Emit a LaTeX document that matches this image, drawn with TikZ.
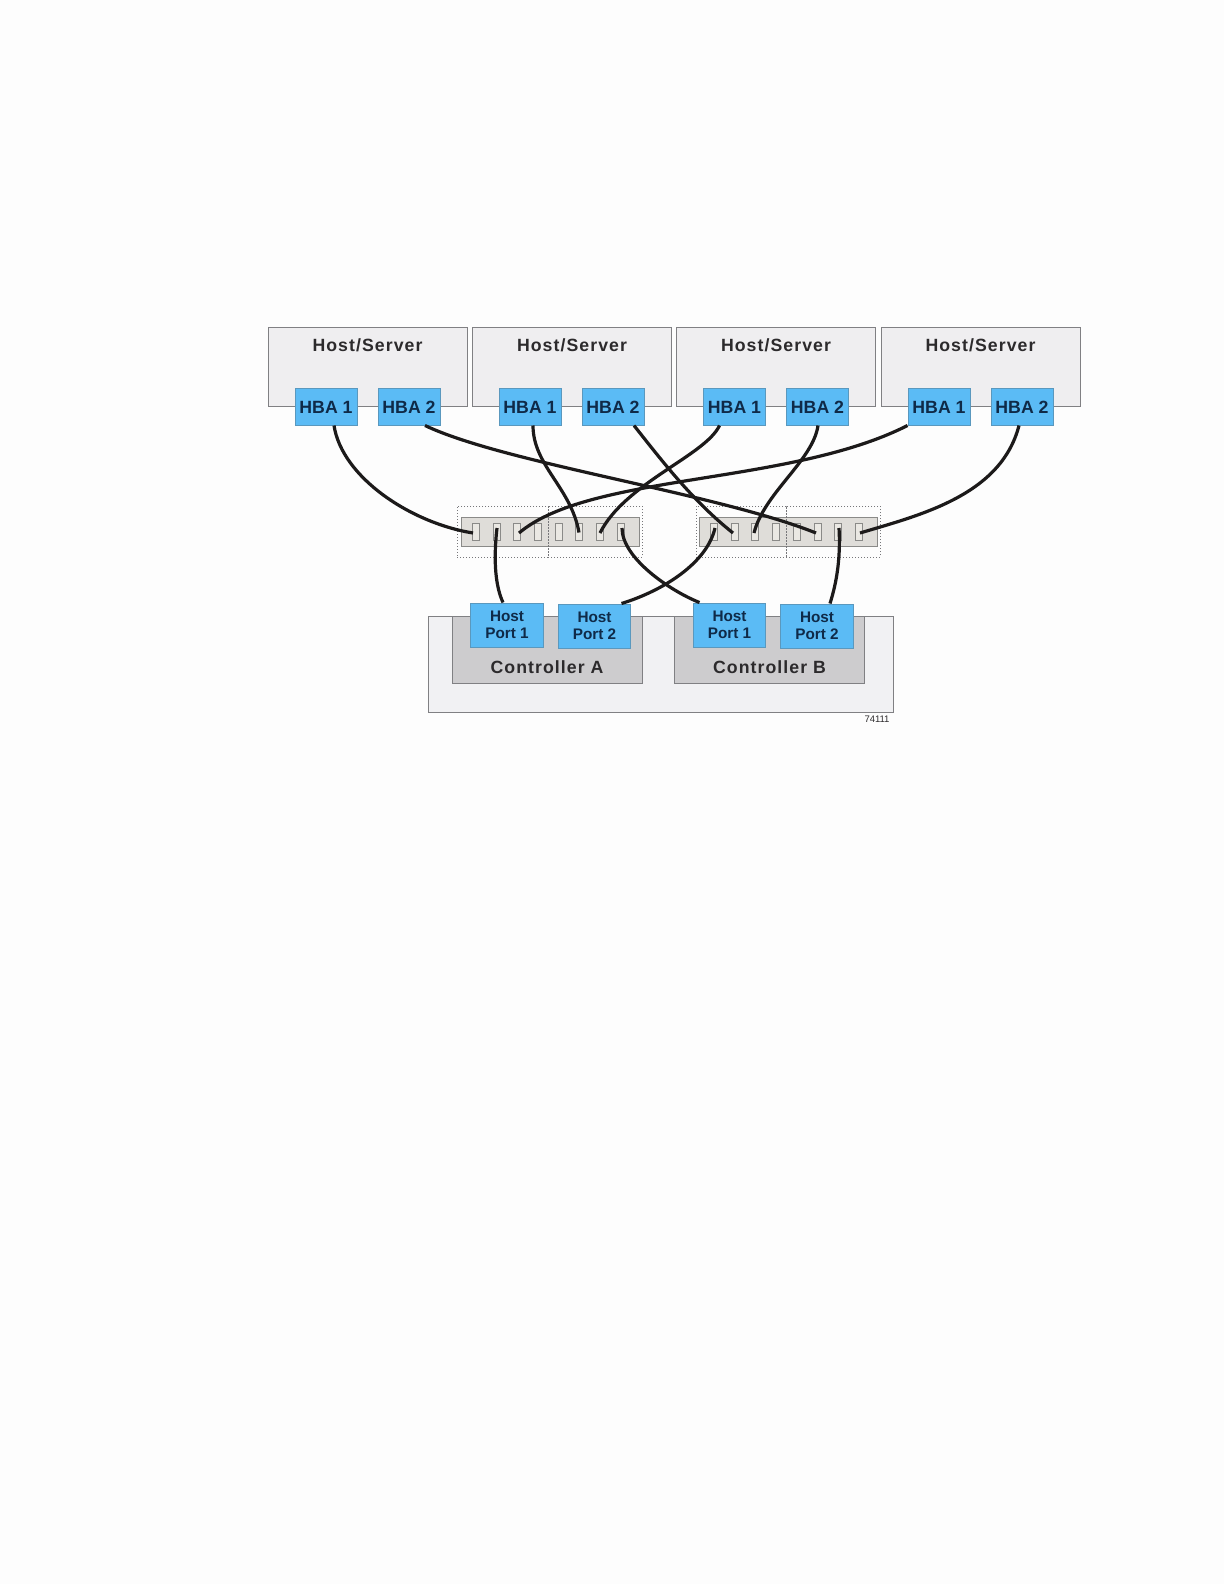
\documentclass[tikz,border=0pt]{standalone}
\usepackage{fontspec}
\setmainfont{Liberation Sans}
\newfontfamily\spacedfont[LetterSpace=6]{Liberation Sans}
\definecolor{pagebg}{HTML}{FDFDFD}
\definecolor{hostfill}{HTML}{EFEEF0}
\definecolor{boxline}{HTML}{808083}
\definecolor{hbafill}{HTML}{5BBBF5}
\definecolor{hbaline}{HTML}{5A98BE}
\definecolor{bluetext}{HTML}{0F2A48}
\definecolor{graytext}{HTML}{2C2A2C}
\definecolor{ctrlfill}{HTML}{CDCCCE}
\definecolor{chassisfill}{HTML}{F1F1F3}
\definecolor{switchfill}{HTML}{DFDDD9}
\definecolor{portfill}{HTML}{EAE8E3}
\definecolor{portline}{HTML}{8A8A88}
\definecolor{wirecol}{HTML}{1C1A1A}
\definecolor{zoneline}{HTML}{77777A}
\tikzset{
  hostbox/.style={draw=boxline,fill=hostfill,line width=.9pt,minimum width=199pt,minimum height=79pt,inner sep=0pt},
  hosttitle/.style={font=\fontsize{17.7}{20}\bfseries\spacedfont\selectfont,text=graytext,inner sep=0pt},
  hbabox/.style={draw=hbaline,fill=hbafill,line width=1pt,minimum width=62pt,minimum height=37pt,inner sep=0pt,
     text height=13pt,text depth=0pt,font=\fontsize{17.7}{20}\bfseries\selectfont,text=bluetext},
  portbox/.style={draw=hbaline,fill=hbafill,line width=1pt,minimum width=72.5pt,minimum height=44pt,inner sep=0pt,
     align=center,font=\fontsize{15.3}{17.5}\bfseries\selectfont,text=bluetext},
  chassis/.style={draw=boxline,fill=chassisfill,line width=.9pt,minimum width=465pt,minimum height=96pt,inner sep=0pt},
  ctrlbox/.style={draw=boxline,fill=ctrlfill,line width=.9pt,minimum width=190pt,minimum height=67pt,inner sep=0pt},
  ctrltitle/.style={font=\fontsize{17.7}{20}\bfseries\spacedfont\selectfont,text=graytext,inner sep=0pt},
  switchbox/.style={draw=portline,fill=switchfill,line width=1pt,minimum width=178pt,minimum height=29pt,inner sep=0pt},
  zonebox/.style={draw=zoneline,dotted,line width=1pt,minimum height=51pt,inner sep=0pt},
  switchport/.style={draw=portline,fill=portfill,line width=.9pt,minimum width=7pt,minimum height=17pt,inner sep=0pt},
  wire/.style={draw=wirecol,line width=3.2pt,line cap=butt},
  tag/.style={font=\fontsize{9.5}{11}\selectfont,text=graytext,inner sep=0pt}
}
\begin{document}
\begin{tikzpicture}[x=1pt,y=-1pt]
\useasboundingbox[fill=pagebg] (0,0) rectangle (1224,1584);
% hosts
\node[hostbox] (host1) at (367.5,366.5) {};
\node[hostbox] (host2) at (572,366.5) {};
\node[hostbox] (host3) at (776,366.5) {};
\node[hostbox] (host4) at (980.5,366.5) {};
\node[hosttitle] (t1) at (367.5,345) {Host/Server};
\node[hosttitle] (t2) at (572,345) {Host/Server};
\node[hosttitle] (t3) at (776,345) {Host/Server};
\node[hosttitle] (t4) at (980.5,345) {Host/Server};
% HBAs
\node[hbabox] (h1a) at (326,406.5) {HBA 1};
\node[hbabox] (h1b) at (409,406.5) {HBA 2};
\node[hbabox] (h2a) at (530,406.5) {HBA 1};
\node[hbabox] (h2b) at (613,406.5) {HBA 2};
\node[hbabox] (h3a) at (734.5,406.5) {HBA 1};
\node[hbabox] (h3b) at (817.5,406.5) {HBA 2};
\node[hbabox] (h4a) at (939,406.5) {HBA 1};
\node[hbabox] (h4b) at (1022,406.5) {HBA 2};
% switches
\node[switchbox] (swa) at (550,531.5) {};
\node[switchbox] (swb) at (788,531.5) {};
\node[zonebox,minimum width=91pt] (za1) at (502.5,531.5) {};
\node[zonebox,minimum width=94pt] (za2) at (595,531.5) {};
\node[zonebox,minimum width=90pt] (zb1) at (741,531.5) {};
\node[zonebox,minimum width=94pt] (zb2) at (833,531.5) {};
\foreach \n/\x in {a1/476,a2/497,a3/517,a4/538,a5/559,a6/579,a7/600,a8/621,
                   b1/714,b2/735,b3/755,b4/776,b5/797,b6/818,b7/838,b8/859}
  \node[switchport] (p\n) at (\x,531.5) {};
% chassis and controllers
\node[chassis] (chas) at (660.5,664) {};
\node[ctrlbox] (ca) at (547,649.5) {};
\node[ctrlbox] (cb) at (769.5,649.5) {};
\node[ctrltitle] (cat) at (547,667) {Controller A};
\node[ctrltitle] (cbt) at (769.5,667) {Controller B};
\node[portbox] (a1) at (507,625) {Host\\Port 1};
\node[portbox] (a2) at (594.5,626) {Host\\Port 2};
\node[portbox] (b1) at (729.5,625) {Host\\Port 1};
\node[portbox] (b2) at (817,626) {Host\\Port 2};
\node[tag] (fig) at (877,719.5) {74111};
% cables
\draw[wire] ([xshift=8pt]h1a.south) .. controls +(8,52) and +(-62,-10) .. ([xshift=-3pt,yshift=-1.5pt]pa1.center);
\draw[wire] ([xshift=16pt]h1b.south) .. controls +(80,38) and +(-100,-40) .. ([xshift=-2pt,yshift=-1.5pt]pb6.center);
\draw[wire] ([xshift=3pt]h2a.south) .. controls +(0,40) and +(-8,-45) .. ([yshift=-1pt]pa6.center);
\draw[wire] ([xshift=21pt]h2b.south) .. controls +(30,38) and +(-40,-32) .. ([xshift=-2pt,yshift=-1.5pt]pb2.center);
\draw[wire] ([xshift=-15pt]h3a.south) .. controls +(-14,30) and +(25,-50) .. ([yshift=-1.5pt]pa7.center);
\draw[wire] ([xshift=0.5pt]h3b.south) .. controls +(-5,35) and +(10,-40) .. ([xshift=-1pt,yshift=-1.5pt]pb3.center);
\draw[wire] (h4a.south west) .. controls +(-118,60) and +(71,-60) .. ([xshift=2pt,yshift=-1.5pt]pa3.center);
\draw[wire] ([xshift=-3pt]h4b.south) .. controls +(-18,70) and +(60,-18) .. ([xshift=1pt,yshift=-1.5pt]pb8.center);
\draw[wire] ([yshift=3.5pt]pa2.center) .. controls +(-4,35) and +(-7,-15) .. ([xshift=-4pt]a1.north);
\draw[wire] ([xshift=1pt,yshift=3.5pt]pa8.center) .. controls +(0,30) and +(-30,-12) .. ([xshift=-30pt]b1.north);
\draw[wire] ([xshift=1pt,yshift=3.5pt]pb1.center) .. controls +(-8,35) and +(42,-13) .. ([xshift=27pt]a2.north);
\draw[wire] ([xshift=1pt,yshift=3.5pt]pb7.center) .. controls +(2,35) and +(5,-16) .. ([xshift=13pt]b2.north);
\end{tikzpicture}
\end{document}
